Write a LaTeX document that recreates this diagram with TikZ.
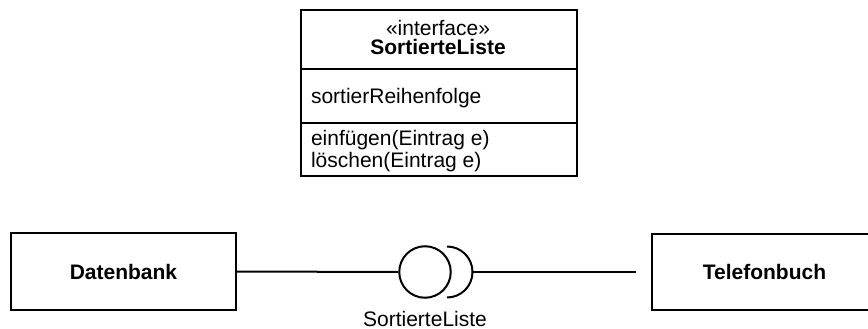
\documentclass[tikz,border=0pt]{standalone}
\usepackage{fontspec}
\setmainfont{Liberation Sans}
\begin{document}
\begin{tikzpicture}[x=1pt,y=-1pt,line width=2pt,
  txt/.style={inner sep=0pt,font=\fontsize{21}{24}\selectfont},
  boldtxt/.style={inner sep=0pt,font=\fontsize{21}{24}\selectfont\bfseries},
  classbox/.style={draw,minimum width=225pt,minimum height=76.5pt,inner sep=0pt,font=\fontsize{21}{24}\selectfont\bfseries},
  ballshape/.style={circle,draw,minimum size=51.5pt,inner sep=0pt}]
\clip (0,0) rectangle (868,329);
% interface class box
\node[draw,anchor=north west,minimum width=276pt,minimum height=165pt,inner sep=0pt] (iface) at (300,9.5) {};
\draw (300,69) -- (576,69);
\draw (300,122.5) -- (576,122.5);
\node[txt,anchor=base] (stereo) at (438,36) {«interface»};
\node[boldtxt,anchor=base] (iname) at (438,54.5) {SortierteListe};
\node[txt,anchor=base west] (attr) at (310,103) {sortierReihenfolge};
\node[txt,anchor=base west] (op1) at (310,146) {einfügen(Eintrag e)};
\node[txt,anchor=base west] (op2) at (310,167) {löschen(Eintrag e)};
% components
\node[classbox] (db) at (123.5,271.5) {Datenbank};
\node[classbox] (tel) at (764.5,272) {Telefonbuch};
% lollipop
\node[ballshape] (ball) at (425,272) {};
\draw (447,246.5) arc[start angle=-90,end angle=90,radius=25.5];
\coordinate (sock) at (472.5,272);
\coordinate (telend) at (636,272);
\draw (db.east) -- (ball.west);
\draw (sock) -- (telend);
\node[txt,anchor=base] (lbl) at (425,326) {SortierteListe};
\end{tikzpicture}
\end{document}
